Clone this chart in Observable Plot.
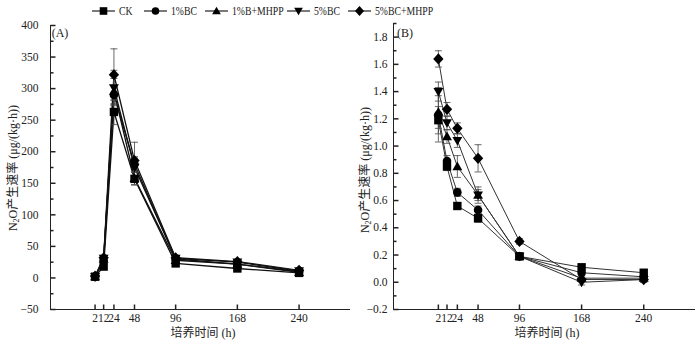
<!DOCTYPE html>
<html><head><meta charset="utf-8">
<script src="https://cdn.jsdelivr.net/npm/d3@7"></script>
<script src="https://cdn.jsdelivr.net/npm/@observablehq/plot@0.6"></script>
<style>
html,body{margin:0;padding:0;background:#fff;}
#root{position:relative;width:700px;height:344px;overflow:hidden;background:#fff;}
.pan{position:absolute;top:0;}
#legend{position:absolute;top:0;left:0;}
</style></head><body>
<div id="root"><div class="pan" id="pa" style="left:0px"></div><div class="pan" id="pb" style="left:350px"></div><div id="legend"></div></div>
<script>
// ---- data ----
const times = [2, 12, 24, 48, 96, 168, 240];
const seriesNames = ["CK", "1%BC", "1%B+MHPP", "5%BC", "5%BC+MHPP"];
// Panel A (N2O rate, μg/(kg·h))
const aCK    = [2, 18, 263, 157, 23, 15, 8];
const a1BC   = [2, 28, 290, 180, 30, 22, 10];
const a1BM   = [2, 30, 296, 158, 28, 22, 9];
const a5BC   = [2, 31, 301, 175, 31, 25, 11];
const a5BM   = [3, 32, 322, 186, 32, 26, 12];
const aErrCK  = [1, 3, 20, 10, 3, 2, 2];
const aErr1BC = [1, 3, 15, 12, 3, 3, 2];
const aErr1BM = [1, 3, 20, 10, 3, 3, 2];
const aErr5BC = [1, 4, 28, 15, 3, 3, 2];
const aErr5BM = [1, 4, 41, 29, 4, 3, 2];
// Panel B
const bCK    = [1.19, 0.85, 0.56, 0.47, 0.19, 0.11, 0.07];
const b1BC   = [1.23, 0.89, 0.66, 0.53, 0.19, 0.07, 0.04];
const b1BM   = [1.25, 1.07, 0.85, 0.64, 0.19, 0.03, 0.03];
const b5BC   = [1.40, 1.17, 1.04, 0.64, 0.19, 0.00, 0.02];
const b5BM   = [1.64, 1.27, 1.13, 0.91, 0.30, 0.02, 0.02];
const bErrCK  = [0.10, 0.03, 0.02, 0.03, 0.02, 0.02, 0.02];
const bErr1BC = [0.20, 0.04, 0.03, 0.03, 0.02, 0.02, 0.02];
const bErr1BM = [0.12, 0.05, 0.08, 0.06, 0.02, 0.02, 0.02];
const bErr5BC = [0.07, 0.05, 0.05, 0.04, 0.02, 0.02, 0.02];
const bErr5BM = [0.06, 0.05, 0.04, 0.10, 0.02, 0.02, 0.02];
const aMajor = [-50, 0, 50, 100, 150, 200, 250, 300, 350, 400];
const aMinor = [-25, 25, 75, 125, 175, 225, 275, 325, 375];
const bMajor = [-0.2, 0.0, 0.2, 0.4, 0.6, 0.8, 1.0, 1.2, 1.4, 1.6, 1.8];
const bMinor = [-0.1, 0.1, 0.3, 0.5, 0.7, 0.9, 1.1, 1.3, 1.5, 1.7, 1.9];
const yTitle = ["N", "2", "O产生速率 (μg/(kg·h))"];
const xTitle = "培养时间 (h)";

// ---- symbols ----
const rad = size => Math.sqrt(size / Math.PI);
const symSquare = {draw(c, size){ const s = rad(size); c.moveTo(-s,-s); c.lineTo(s,-s); c.lineTo(s,s); c.lineTo(-s,s); c.closePath(); }};
const symCircle = {draw(c, size){ const s = rad(size); c.moveTo(s,0); c.arc(0,0,s,0,2*Math.PI); }};
const symTri = {draw(c, size){ const s = rad(size); c.moveTo(0,-s*1.15); c.lineTo(s*1.15,s*0.85); c.lineTo(-s*1.15,s*0.85); c.closePath(); }};
const symTriDown = {draw(c, size){ const s = rad(size); c.moveTo(0,s*1.15); c.lineTo(s*1.15,-s*0.85); c.lineTo(-s*1.15,-s*0.85); c.closePath(); }};
const symDiamond = {draw(c, size){ const s = rad(size); c.moveTo(0,-s*1.3); c.lineTo(s*1.2,0); c.lineTo(0,s*1.3); c.lineTo(-s*1.2,0); c.closePath(); }};
const symbols = [symSquare, symCircle, symTri, symTriDown, symDiamond];
const symR = [4.2, 4.3, 4.3, 4.3, 4.3];
const tickRight = L => ({draw(c){ c.moveTo(0,0); c.lineTo(L,0); }});
const tickUp = L => ({draw(c){ c.moveTo(0,0); c.lineTo(0,-L); }});
const capSym = {draw(c){ c.moveTo(-3.5,0); c.lineTo(3.5,0); }};

const FONT = '"Liberation Serif","Times New Roman","Noto Sans CJK SC",serif';

function panel(o) {
  const rows = [];
  seriesNames.forEach((name, k) => times.forEach((t, i) => rows.push({name, k, t, v: o.vals[k][i], e: o.errs[k][i]})));
  const xDomain = [-50, 300];
  const marks = [
    Plot.ruleX([xDomain[0]], {stroke: "#222", strokeWidth: 1}),
    Plot.ruleY([o.yDomain[0]], {stroke: "#222", strokeWidth: 1}),
    Plot.dot(o.yMajor, {x: () => xDomain[0], y: d => d, symbol: tickRight(5), stroke: "#222", fill: "none", r: 3}),
    Plot.dot(o.yMinor, {x: () => xDomain[0], y: d => d, symbol: tickRight(3), stroke: "#222", fill: "none", r: 3}),
    Plot.dot(times, {x: d => d, y: () => o.yDomain[0], symbol: tickUp(5), stroke: "#222", fill: "none", r: 3}),
    Plot.axisY({ticks: o.yMajor, tickSize: 0, tickPadding: o.padY, tickFormat: o.fmt, label: null, fill: "#222"}),
    Plot.axisX({ticks: times, tickSize: 0, tickPadding: 4, tickFormat: d => String(d), label: null, fill: "#222"})
  ];
  seriesNames.forEach((name, k) => {
    marks.push(Plot.line(rows.filter(d => d.k === k), {x: "t", y: "v", stroke: o.lineColor, strokeWidth: o.lineWidth}));
  });
  marks.push(Plot.ruleX(rows, {x: "t", y1: d => d.v - d.e, y2: d => d.v + d.e, stroke: "#444", strokeWidth: 0.8}));
  marks.push(Plot.dot(rows, {x: "t", y: d => d.v + d.e, symbol: capSym, stroke: "#444", strokeWidth: 0.8, fill: "none", r: 3}));
  marks.push(Plot.dot(rows, {x: "t", y: d => d.v - d.e, symbol: capSym, stroke: "#444", strokeWidth: 0.8, fill: "none", r: 3}));
  seriesNames.forEach((name, k) => {
    marks.push(Plot.dot(rows.filter(d => d.k === k), {x: "t", y: "v", symbol: symbols[k], r: symR[k], fill: "#000", stroke: "none"}));
  });
  const svg = Plot.plot({
    width: 350, height: 344,
    marginTop: o.marginTop, marginBottom: 35, marginLeft: o.marginLeft, marginRight: o.marginRight,
    x: {domain: xDomain},
    y: {domain: o.yDomain},
    style: {fontFamily: FONT, fontSize: "11.5px", background: "white", color: "#222"},
    marks
  });
  const s = d3.select(svg);
  // y title
  const yt = s.append("text")
    .attr("transform", `translate(${o.yTitleX},${o.yTitleY}) rotate(-90)`)
    .attr("text-anchor", "middle").attr("dominant-baseline", "central")
    .attr("font-family", FONT).attr("font-size", "12px").attr("fill", "#222");
  yt.append("tspan").text(yTitle[0]);
  yt.append("tspan").text(yTitle[1]).attr("font-size", "8px").attr("dy", "3");
  yt.append("tspan").text(yTitle[2]).attr("dy", "-3");
  // x title
  s.append("text")
    .attr("x", (o.marginLeft + 350 - o.marginRight) / 2 + 3).attr("y", 333)
    .attr("text-anchor", "middle").attr("dominant-baseline", "central")
    .attr("font-family", FONT).attr("font-size", "12px").attr("fill", "#222")
    .text(xTitle);
  // panel tag
  s.append("text")
    .attr("x", o.tagX).attr("y", 33)
    .attr("dominant-baseline", "central")
    .attr("font-family", FONT).attr("font-size", "12px").attr("fill", "#222")
    .text(o.tag);
  return svg;
}

document.getElementById("pa").appendChild(panel({
  vals: [aCK, a1BC, a1BM, a5BC, a5BM], errs: [aErrCK, aErr1BC, aErr1BM, aErr5BC, aErr5BM],
  yDomain: [-50, 400], yMajor: aMajor, yMinor: aMinor, fmt: d3.format("d"),
  marginLeft: 50, marginRight: 0, marginTop: 25, padY: 12,
  lineColor: "#111", lineWidth: 1.3,
  yTitleX: 13, yTitleY: 168, tag: "(A)", tagX: 60
}));
document.getElementById("pb").appendChild(panel({
  vals: [bCK, b1BC, b1BM, b5BC, b5BM], errs: [bErrCK, bErr1BC, bErr1BM, bErr5BC, bErr5BM],
  yDomain: [-0.2, 1.9], yMajor: bMajor, yMinor: bMinor, fmt: d3.format(".1f"),
  marginLeft: 43, marginRight: 5, marginTop: 23, padY: 6,
  lineColor: "#333", lineWidth: 1,
  yTitleX: 15, yTitleY: 170, tag: "(B)", tagX: 55
}));

// ---- legend ----
const legendX = [92, 144, 205, 287, 348];
const lg = d3.select("#legend").append("svg").attr("width", 700).attr("height", 22);
seriesNames.forEach((name, k) => {
  const g = lg.append("g").attr("transform", `translate(${legendX[k]},11)`);
  g.append("line").attr("x1", 0).attr("x2", 23).attr("y1", 0).attr("y2", 0).attr("stroke", "#222").attr("stroke-width", 1.2);
  const p = d3.path();
  symbols[k].draw(p, Math.PI * 3.8 * 3.8);
  g.append("path").attr("d", p.toString()).attr("transform", "translate(11.5,0)").attr("fill", "#000");
  g.append("text").attr("x", 27).attr("y", 0).attr("dominant-baseline", "central")
    .attr("transform", "scale(0.85,1)").attr("transform-origin", "27 0")
    .attr("font-family", FONT).attr("font-size", "11.5px").attr("fill", "#222").text(name);
});
</script>
</body></html>
